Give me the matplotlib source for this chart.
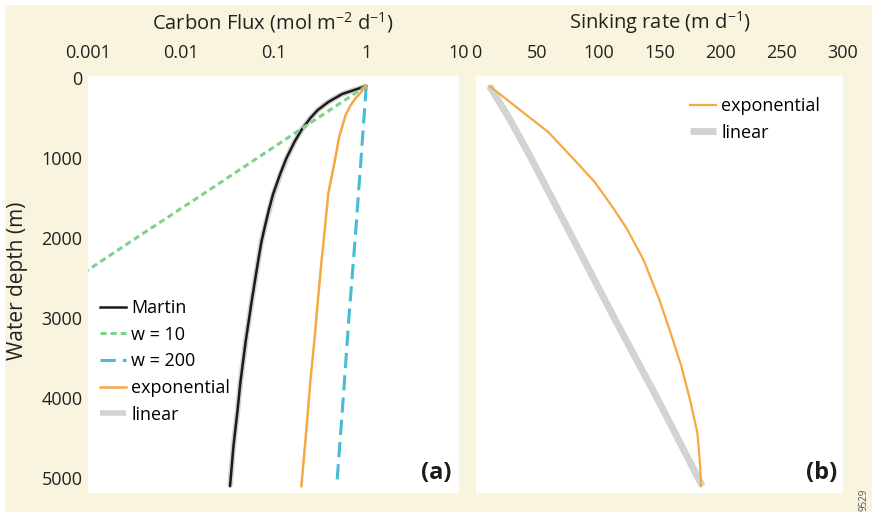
import matplotlib.pyplot as plt
from matplotlib.patches import Rectangle

plt.rcParams['font.family'] = ['Open Sans', 'DejaVu Sans']
plt.rcParams['mathtext.default'] = 'regular'

# panel (a): carbon flux vs depth
martin_depth = [100, 200, 300, 400, 500, 650, 800, 1000, 1200, 1450, 1650, 1850, 2050,
                2300, 2800, 3300, 3800, 4150, 4600, 5100]
martin_flux = [1.0, 0.55, 0.39, 0.30, 0.25, 0.20, 0.168, 0.138, 0.118, 0.099, 0.089, 0.081,
               0.074, 0.068, 0.058, 0.050, 0.044, 0.041, 0.037, 0.034]

linear_depth = [100, 200, 300, 400, 500, 650, 800, 1000, 1200, 1450, 1650, 1850, 2050,
                2300, 2800, 3300, 3800, 4150, 4600, 5100]
linear_flux = [1.0, 0.55, 0.39, 0.30, 0.25, 0.20, 0.168, 0.139, 0.119, 0.100, 0.090, 0.081,
               0.074, 0.068, 0.058, 0.050, 0.044, 0.041, 0.037, 0.034]

expo_depth = [100, 190, 250, 340, 460, 610, 740, 1025, 1440, 1860, 2280, 2800, 3300, 3780,
              4300, 5100]
expo_flux = [1.0, 0.86, 0.77, 0.68, 0.60, 0.55, 0.51, 0.46, 0.39, 0.36, 0.33, 0.30, 0.275,
             0.25, 0.23, 0.20]

w10_depth = [100, 500, 1000, 1500, 2000, 2500]
w10_flux = [1.0, 0.30, 0.067, 0.015, 0.0033, 0.00074]

w200_depth = [100, 1000, 2000, 3000, 4000, 5100]
w200_flux = [1.0, 0.88, 0.76, 0.65, 0.565, 0.48]

flux_ticks = [0.001, 0.01, 0.1, 1, 10]
flux_ticklabels = ["0.001", "0.01", "0.1", "1", "10"]
depth_ticks = [0, 1000, 2000, 3000, 4000, 5000]

# panel (b): sinking rate vs depth
sink_expo_depth = [100, 400, 675, 1000, 1300, 1600, 1875, 2275, 2775, 3275, 3610, 4025,
                   4440, 4800, 5100]
sink_expo_w = [11, 36, 59, 79, 97, 111, 123, 137, 150, 161, 168, 175, 181, 183, 184]

sink_lin_depth = [100, 500, 1000, 2000, 3000, 4000, 5100]
sink_lin_w = [11, 27, 45, 79, 113, 148, 185]

sink_ticks = [0, 50, 100, 150, 200, 250, 300]

BEIGE = "#f9f4dd"
BLACK = "#1b1b1b"
GRAY = "#d2d3d3"
ORANGE = "#f6a843"
GREEN = "#7dd38b"
CYAN = "#45bdd2"
TXT = "#222222"

W, H = 872, 514
fig = plt.figure(figsize=(W / 100, H / 100), dpi=100, facecolor="white")
fig.patches.append(Rectangle((5 / W, 2 / H), 1, 1 - 7 / H, transform=fig.transFigure,
                             facecolor=BEIGE, edgecolor="none", zorder=-1))

bottom = 1 - 493 / H
height = (493 - 76) / H
ax1 = fig.add_axes([88 / W, bottom, (459 - 88) / W, height])
ax2 = fig.add_axes([476 / W, bottom, (843 - 476) / W, height])

for ax in (ax1, ax2):
    ax.set_facecolor("white")
    for s in ax.spines.values():
        s.set_visible(False)
    ax.xaxis.tick_top()
    ax.tick_params(length=0, labelsize=13, colors=TXT)
    ax.tick_params(axis="x", pad=10)
    ax.tick_params(axis="y", pad=4)
    ax.set_ylim(5187, -25)

leg_kw = dict(frameon=False, fontsize=13, borderpad=0, borderaxespad=0,
              handlelength=1.45, handletextpad=0.28, labelspacing=0.48)

# (a)
ax1.plot(linear_flux, linear_depth, color=GRAY, lw=4, solid_capstyle="butt", label="linear")
ax1.plot(martin_flux, martin_depth, color=BLACK, lw=1.8, label="Martin")
ax1.plot(w10_flux, w10_depth, color=GREEN, lw=2.2, ls=(0, (2, 1.3)), label="w = 10")
ax1.plot(w200_flux, w200_depth, color=CYAN, lw=2.2, ls=(0, (5, 2.3)), label="w = 200")
ax1.plot(expo_flux, expo_depth, color=ORANGE, lw=1.8, label="exponential")
ax1.set_xscale("log")
ax1.set_xlim(0.001, 10)
ax1.set_xticks(flux_ticks)
ax1.set_xticklabels(flux_ticklabels)
ax1.minorticks_off()
ax1.set_yticks(depth_ticks)
ax1.set_yticklabels([str(d) for d in depth_ticks])

handles, labels = ax1.get_legend_handles_labels()
order = ["Martin", "w = 10", "w = 200", "exponential", "linear"]
hmap = dict(zip(labels, handles))
ax1.legend([hmap[k] for k in order], order, loc="upper left",
           bbox_to_anchor=(0.032, 0.465), **leg_kw)
ax1.text(0.98, 0.02, "(a)", transform=ax1.transAxes, ha="right", va="bottom",
         fontsize=17, fontweight="bold", color=BLACK)

# (b)
ax2.plot(sink_expo_w, sink_expo_depth, color=ORANGE, lw=1.6, label="exponential", zorder=3)
ax2.plot(sink_lin_w, sink_lin_depth, color=GRAY, lw=5, solid_capstyle="butt", label="linear")
ax2.set_xlim(0, 300)
ax2.set_xticks(sink_ticks)
ax2.set_yticks([])
ax2.legend(loc="upper left", bbox_to_anchor=(0.583, 0.95), **leg_kw)
ax2.text(0.985, 0.02, "(b)", transform=ax2.transAxes, ha="right", va="bottom",
         fontsize=17, fontweight="bold", color=BLACK)

fig.text(273 / W, 1 - 23 / H, "Carbon Flux (mol m$^{-2}$ d$^{-1}$)", ha="center", va="center",
         fontsize=14.5, color=TXT)
fig.text(660 / W, 1 - 23 / H, "Sinking rate (m d$^{-1}$)", ha="center", va="center",
         fontsize=14.5, color=TXT)
fig.text(18 / W, 1 - 281 / H, "Water depth (m)", ha="center", va="center", rotation=90,
         fontsize=15, color=TXT)
fig.text(864 / W, 1 - 500 / H, "9529", ha="center", va="center", rotation=90,
         fontsize=7, color="#555555")

fig.savefig("out.png", dpi=100, facecolor=fig.get_facecolor())
